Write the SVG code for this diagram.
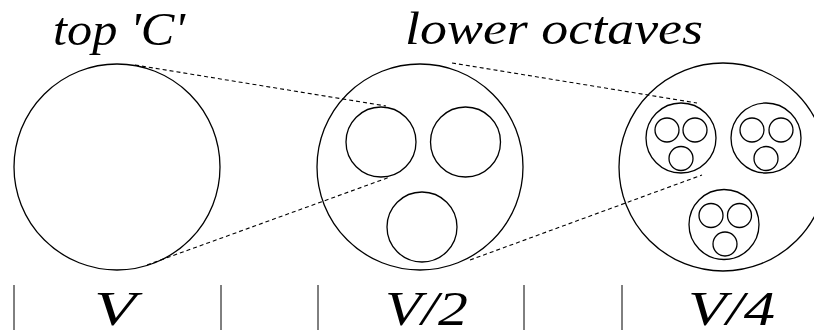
<svg xmlns="http://www.w3.org/2000/svg" width="814" height="334" viewBox="0 0 814 334">
<style>
.c{fill:none;stroke:#000;stroke-width:1.3}
.d{fill:none;stroke:#000;stroke-width:1.1;stroke-dasharray:4 3}
.b{stroke:#000;stroke-width:1}
.t{font-family:"Liberation Serif",serif;font-style:italic;fill:#000}
</style>
<rect width="814" height="334" fill="#fff"/>
<g id="title-top"><text class="t" x="53" y="45" font-size="46" textLength="132" lengthAdjust="spacingAndGlyphs">top 'C'</text></g>
<g id="title-lower"><text class="t" x="405" y="44" font-size="46" textLength="298" lengthAdjust="spacingAndGlyphs">lower octaves</text></g>
<g id="n1"><circle class="c" cx="117" cy="167" r="103"/></g>
<g id="n2">
<circle class="c" cx="420" cy="167" r="103"/>
<circle class="c" cx="381" cy="142" r="35"/>
<circle class="c" cx="465.5" cy="142" r="35"/>
<circle class="c" cx="422" cy="227" r="35"/>
</g>
<g id="n3">
<circle class="c" cx="723" cy="167" r="104"/>
<g id="n3a">
<circle class="c" cx="681" cy="138" r="35"/>
<circle class="c" cx="667" cy="130" r="12"/>
<circle class="c" cx="695" cy="130" r="12"/>
<circle class="c" cx="681" cy="158.5" r="12"/>
</g>
<g id="n3b">
<circle class="c" cx="766" cy="138" r="35"/>
<circle class="c" cx="752" cy="130" r="12"/>
<circle class="c" cx="781" cy="130" r="12"/>
<circle class="c" cx="766" cy="158.5" r="12"/>
</g>
<g id="n3c">
<circle class="c" cx="724" cy="224.5" r="35"/>
<circle class="c" cx="711" cy="215.5" r="12"/>
<circle class="c" cx="739.5" cy="215.5" r="12"/>
<circle class="c" cx="725" cy="244" r="12"/>
</g>
</g>
<g id="connectors">
<line class="d" x1="135" y1="65" x2="386" y2="106"/>
<line class="d" x1="147" y1="265" x2="390" y2="177"/>
<line class="d" x1="452" y1="63" x2="697" y2="103"/>
<line class="d" x1="470" y1="260" x2="702" y2="175"/>
</g>
<g id="axis">
<line class="b" x1="14" y1="285" x2="14" y2="330"/>
<line class="b" x1="221" y1="285" x2="221" y2="330"/>
<line class="b" x1="318" y1="285" x2="318" y2="330"/>
<line class="b" x1="524" y1="285" x2="524" y2="330"/>
<line class="b" x1="622" y1="285" x2="622" y2="330"/>
</g>
<g id="labels">
<text class="t" x="94" y="325" font-size="48" textLength="42" lengthAdjust="spacingAndGlyphs">V</text>
<text class="t" x="385" y="325" font-size="48" textLength="83" lengthAdjust="spacingAndGlyphs">V/2</text>
<text class="t" x="688" y="325" font-size="48" textLength="87" lengthAdjust="spacingAndGlyphs">V/4</text>
</g>
</svg>
